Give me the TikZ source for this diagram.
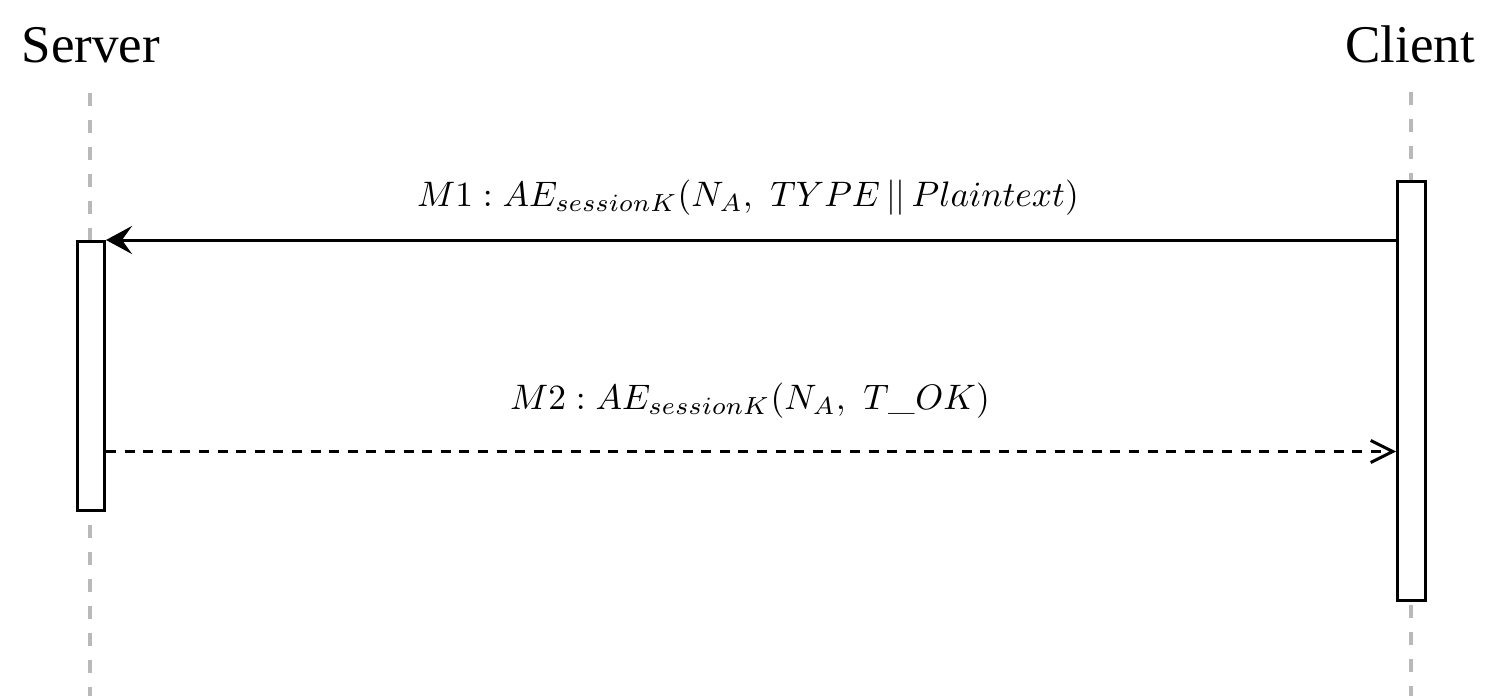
\documentclass[tikz,border=0pt]{standalone}
\usepackage{fontspec}
\newfontfamily\titlefont{Liberation Serif}
\usetikzlibrary{arrows.meta}
\begin{document}
\begin{tikzpicture}[x=0.5pt,y=-0.5pt,
  title/.style={font=\titlefont\fontsize{26.5}{30}\selectfont, inner sep=0pt, anchor=base},
  lifeline/.style={draw=gray!55, line width=2pt, dash pattern=on 6.5pt off 7pt},
  actbox/.style={draw, fill=white, line width=1.5pt, inner sep=0pt, minimum width=13.5pt},
  msglabel/.style={font=\fontsize{10}{12}\selectfont, inner sep=0pt, anchor=base},
  call/.style={line width=1.5pt, -{Stealth[length=13pt,width=14pt,inset=5pt]}},
  reply/.style={line width=1.5pt, dash pattern=on 5pt off 4.3pt, -{Straight Barb[length=11pt,width=11pt,line width=1.5pt]}}
]
\useasboundingbox (0,0) rectangle (1500,696);
% titles
\node[title] (server) at (91,62) {Server};
\node[title] (client) at (1410,62) {Client};
% lifelines
\coordinate (slt) at (90,93);
\coordinate (slb) at (90,696);
\coordinate (clt) at (1411,92);
\coordinate (clb) at (1411,696);
\draw[lifeline] (slt) -- (slb);
\draw[lifeline] (clt) -- (clb);
% activation boxes
\node[actbox, minimum height=134.5pt] (sbox) at (91,376) {};
\node[actbox, minimum height=209.5pt, minimum width=14pt] (cbox) at (1411.5,391.4) {};
% messages
\coordinate (m1end) at (sbox.north east);
\coordinate (m1start) at (cbox.west |- m1end);
\draw[call] (m1start) -- (m1end);
\node[msglabel] (m1label) at (748,206) {\scalebox{1.77}{$M1: AE_{sessionK}(N_A,\ TYPE\,||\,Plaintext)$}};
\coordinate (m2y) at (0,451.5);
\coordinate (m2start) at (sbox.east |- m2y);
\coordinate (m2end) at (cbox.west |- m2y);
\draw[reply] (m2start) -- (m2end);
\node[msglabel] (m2label) at (750,409) {\scalebox{1.77}{$M2: AE_{sessionK}(N_A,\ T\_OK)$}};
\end{tikzpicture}
\end{document}
